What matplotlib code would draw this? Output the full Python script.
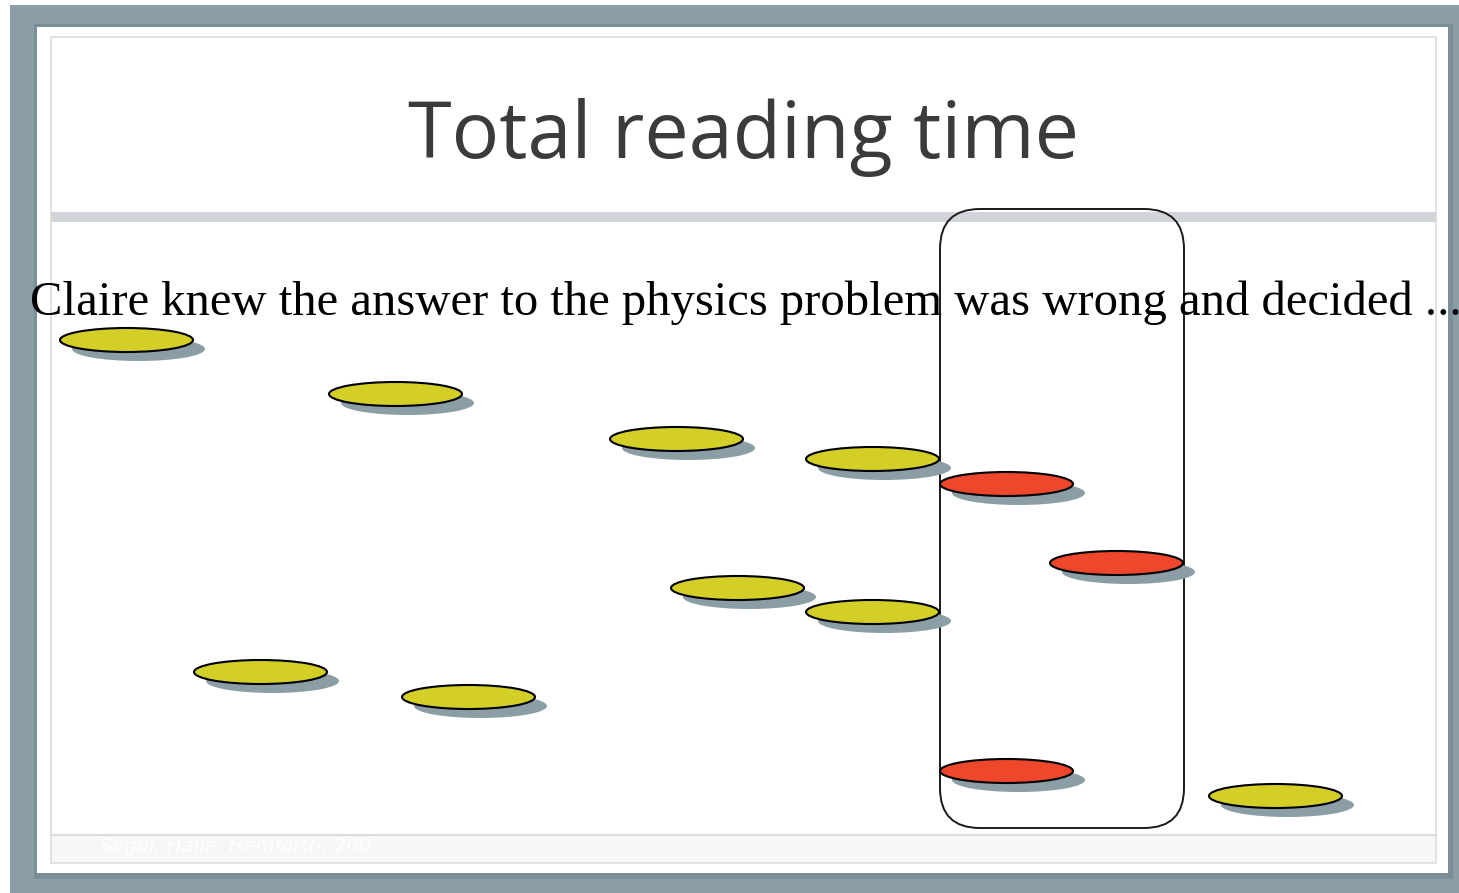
import matplotlib
matplotlib.use("Agg")
import matplotlib.pyplot as plt
from matplotlib.patches import Rectangle, Ellipse, FancyBboxPatch

# ---- data (word regions of the sentence and their reading time level) ----
title = "Total reading time"
sentence = "Claire knew the answer to the physics problem was wrong and decided ..."
footer = "Segui, Halle, Hemforth, 200"
# horizontal extent of each word-region bar and its reading-time level
bar_start = [60, 329, 610, 806, 940, 1050, 671, 806, 194, 402, 940, 1209]
bar_end   = [193, 462, 743, 939, 1073, 1183, 804, 939, 327, 535, 1073, 1342]
bar_level = [340, 394, 439, 459, 484, 563, 588, 612, 672, 697, 771, 796]
bar_group = ["other", "other", "other", "other", "critical", "critical",
             "other", "other", "other", "other", "critical", "other"]
highlight_start, highlight_end = 940, 1184
highlight_top, highlight_bottom = 209, 828

group_colour = {"other": "#d4cf26", "critical": "#ee472b"}

W, H = 1459, 893
fig = plt.figure(figsize=(W / 100, H / 100), dpi=100)
ax = fig.add_axes([0, 0, 1, 1])
ax.set_xlim(0, W)
ax.set_ylim(H, 0)
ax.axis("off")

# frame
ax.add_patch(Rectangle((10, 5), W - 10, H - 5, facecolor="#8b9ea7", edgecolor="none", zorder=0))
ax.add_patch(Rectangle((34, 24), 1419, 855, facecolor="#6f828b", edgecolor="none", zorder=0.5, alpha=0.5))
ax.add_patch(Rectangle((37, 27), 1411, 846, facecolor="white", edgecolor="none", zorder=1))
# footer band
ax.add_patch(Rectangle((51, 835), 1385, 28, facecolor="#f7f7f7", edgecolor="none", zorder=1.2))
ax.add_patch(Rectangle((51, 37), 1385, 826, facecolor="none", edgecolor="#deddd7", lw=1.2, zorder=1.5))
ax.plot([51, 1436], [835, 835], color="#dcdbd5", lw=1.5, zorder=1.5)
ax.add_patch(Rectangle((51, 212), 1385, 10, facecolor="#d1d5da", edgecolor="none", zorder=1.5))

ax.text(100, 846, footer, color="white", fontsize=14, style="italic",
        family="DejaVu Sans", va="center", ha="left", zorder=1.6, alpha=0.9)

# title
ax.text(743, 158, title, ha="center", va="baseline", fontsize=57,
        family="Open Sans", color="#3b3b3b", zorder=3)

# highlight box
ax.add_patch(FancyBboxPatch((highlight_start, highlight_top),
                            highlight_end - highlight_start,
                            highlight_bottom - highlight_top,
                            boxstyle="round,pad=0,rounding_size=40",
                            facecolor="none", edgecolor="#1a1a1a", lw=1.4, zorder=2))

# sentence
ax.text(30, 315, sentence, ha="left", va="baseline", fontsize=35,
        family="Liberation Serif", color="black", zorder=4)

# bars as ellipses with shadows
for s, e, lvl, g in zip(bar_start, bar_end, bar_level, bar_group):
    cx = (s + e) / 2
    w = e - s
    ax.add_patch(Ellipse((cx + 12, lvl + 9), w, 24, facecolor="#8c9ea5",
                         edgecolor="none", zorder=5))
    ax.add_patch(Ellipse((cx, lvl), w, 24, facecolor=group_colour[g],
                         edgecolor="black", lw=1.5, zorder=6))

fig.savefig("out.png", dpi=100)
